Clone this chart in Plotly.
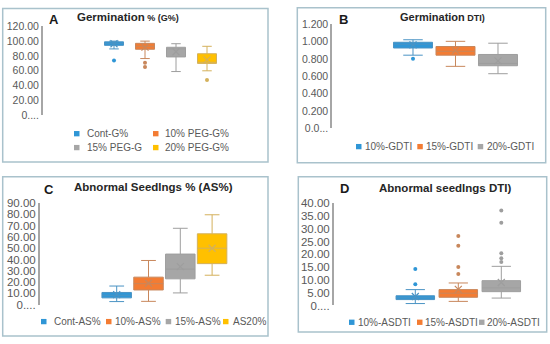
import plotly.graph_objects as go

W, H = 550, 344

# ---------------- data ----------------
# Panel A: Germination % (G%)
A_names = ["Cont-G%", "10% PEG-G%", "15% PEG-G", "20% PEG-G%"]
A_low = [89.5, 76.5, 59.0, 60.0]
A_q1 = [94.3, 89.0, 78.7, 70.0]
A_med = [97.0, 93.0, 89.6, 71.5]
A_q3 = [99.0, 97.0, 91.7, 83.0]
A_high = [100.0, 100.0, 96.5, 93.0]
A_mean = [96.5, 92.0, 85.7, 74.8]
A_out = [[74.0], [71.0, 65.0], [], [47.5]]
A_ticks = [0, 20, 40, 60, 80, 100, 120]
A_ticktext = ["0....", "20.00", "40.00", "60.00", "80.00", "100.00", "120.00"]

# Panel B: Germination DTI
B_names = ["10%-GDTI", "15%-GDTI", "20%-GDTI"]
B_low = [0.844, 0.715, 0.630]
B_q1 = [0.927, 0.844, 0.722]
B_med = [0.970, 0.889, 0.749]
B_q3 = [0.993, 0.944, 0.852]
B_high = [1.022, 1.004, 0.982]
B_mean = [0.963, 0.897, 0.778]
B_out = [[0.804], [], []]
B_ticks = [0, 0.2, 0.4, 0.6, 0.8, 1.0, 1.2]
B_ticktext = ["0.0...", "0.200", "0.400", "0.600", "0.800", "1.000", "1.200"]

# Panel C: Abnormal Seedlings % (AS%)
C_names = ["Cont-AS%", "10%-AS%", "15%-AS%", "AS20%"]
C_low = [2.6, 2.8, 10.3, 26.0]
C_q1 = [5.9, 12.9, 22.8, 36.3]
C_med = [8.2, 18.5, 31.4, 50.0]
C_q3 = [10.7, 24.3, 44.8, 62.8]
C_high = [16.4, 39.1, 67.7, 79.7]
C_mean = [8.8, 18.9, 33.7, 50.0]
C_out = [[], [], [], []]
C_ticks = [0, 10, 20, 30, 40, 50, 60, 70, 80, 90]
C_ticktext = ["0....", "10.00", "20.00", "30.00", "40.00", "50.00",
              "60.00", "70.00", "80.00", "90.00"]

# Panel D: Abnormal seedlings DTI
D_names = ["10%-ASDTI", "15%-ASDTI", "20%-ASDTI"]
D_low = [0.75, 1.6, 2.9]
D_q1 = [2.3, 3.2, 5.4]
D_med = [3.0, 4.8, 6.9]
D_q3 = [3.8, 6.2, 9.7]
D_high = [6.2, 8.8, 15.3]
D_mean = [3.5, 6.3, 9.0]
D_out = [[8.3, 14.3], [12.3, 15.0, 23.4, 27.2], [17.0, 18.5, 20.4, 32.3, 37.1]]
D_ticks = [0, 5, 10, 15, 20, 25, 30, 35, 40]
D_ticktext = ["0....", "5.00", "10.00", "15.00", "20.00", "25.00",
              "30.00", "35.00", "40.00"]

# ---------------- styles ----------------
FILL = ["#2F96D6", "#F37C33", "#A6A6A6", "#FFC000"]
LINE = ["#4A93C4", "#C8875C", "#9E9E9E", "#D4B15C"]
FONT = "Liberation Sans"
TXT = "#595959"


def px(x):
    return x / W


def py(y):
    return 1 - y / H


panels = [
    dict(key="", names=A_names, low=A_low, q1=A_q1, med=A_med, q3=A_q3, high=A_high,
         mean=A_mean, out=A_out, ticks=A_ticks, ticktext=A_ticktext, ymax=120,
         x0=43, x1=262, c0=114, sp=31, bw=19, ytop=21, ybot=113.3, tfs=10.5,
         frame=(2.7, 2.7, 268, 161.7),
         letter=("A", 54, 14), title=("Germination", " % (G%)", 75, 11, 11.5, 9),
         legend=[(74, 85, 132.3), (153, 163, 132.3), (74, 85, 146.7), (153, 163, 146.7)]),
    dict(key="2", names=B_names, low=B_low, q1=B_q1, med=B_med, q3=B_q3, high=B_high,
         mean=B_mean, out=B_out, ticks=B_ticks, ticktext=B_ticktext, ymax=1.2,
         x0=332.3, x1=540, c0=413, sp=42.5, bw=39, ytop=19, ybot=126.7, tfs=10.5,
         frame=(297.3, 1.7, 545.7, 162.3),
         letter=("B", 343, 14), title=("Germination", " DTI)", 397.7, 11.7, 11, 9),
         legend=[(356, 363.3, 145.7), (417.3, 424.3, 145.7), (477.7, 485, 145.7)]),
    dict(key="3", names=C_names, low=C_low, q1=C_q1, med=C_med, q3=C_q3, high=C_high,
         mean=C_mean, out=C_out, ticks=C_ticks, ticktext=C_ticktext, ymax=90,
         x0=40, x1=262, c0=116.7, sp=31.8, bw=29.5, ytop=204.3, ybot=309.3, tfs=11.5,
         frame=(2.7, 177, 268, 342),
         letter=("C", 49.3, 190.3), title=("Abnormal Seedlngs % (AS%)", "", 71.7, 187.7, 11.5, 9),
         legend=[(41, 51.7, 327), (106, 112.7, 327), (165.7, 172.7, 327), (223, 230.7, 327)]),
    dict(key="4", names=D_names, low=D_low, q1=D_q1, med=D_med, q3=D_q3, high=D_high,
         mean=D_mean, out=D_out, ticks=D_ticks, ticktext=D_ticktext, ymax=40,
         x0=334, x1=540, c0=415.3, sp=43, bw=38.5, ytop=204.3, ybot=310.3, tfs=11.5,
         frame=(298.3, 177, 546.7, 337.7),
         letter=("D", 344, 189.3), title=("Abnormal seedlngs DTI)", "", 377.3, 189, 11.5, 9),
         legend=[(349, 356, 327.7), (417, 423, 327.7), (479, 485, 327.7)]),
]

fig = go.Figure()
shapes = []
annotations = []
layout = {}

for p in panels:
    k = p["key"]
    xa, ya = "x" + k, "y" + k
    n = len(p["names"])
    bwu = p["bw"] / p["sp"]
    for i, name in enumerate(p["names"]):
        fig.add_trace(go.Box(
            x=[name], q1=[p["q1"][i]], median=[p["med"][i]], q3=[p["q3"][i]],
            lowerfence=[p["low"][i]], upperfence=[p["high"][i]],
            fillcolor=FILL[i], line=dict(color=LINE[i], width=1),
            width=bwu, whiskerwidth=0.5, boxpoints=False, showlegend=False,
            xaxis=xa, yaxis=ya, hoverinfo="skip"))
        fig.add_trace(go.Scatter(
            x=[name], y=[p["mean"][i]], mode="markers", showlegend=False,
            marker=dict(symbol="x-thin", size=7, line=dict(color=LINE[i], width=1.2)),
            xaxis=xa, yaxis=ya, hoverinfo="skip"))
        if p["out"][i]:
            fig.add_trace(go.Scatter(
                x=[name] * len(p["out"][i]), y=p["out"][i], mode="markers",
                showlegend=False, marker=dict(size=4, color=LINE[i] if i != 0 else FILL[0]),
                xaxis=xa, yaxis=ya, hoverinfo="skip"))
    c_last = p["c0"] + (n - 1) * p["sp"]
    rng = [-(p["c0"] - p["x0"]) / p["sp"], (n - 1) + (p["x1"] - c_last) / p["sp"]]
    layout["xaxis" + k] = dict(
        domain=[px(p["x0"]), px(p["x1"])], range=rng, type="category",
        categoryorder="array", categoryarray=p["names"], anchor=ya,
        visible=False, showgrid=False, zeroline=False, fixedrange=True)
    layout["yaxis" + k] = dict(
        domain=[py(p["ybot"]), py(p["ytop"])], range=[0, p["ymax"]], anchor=xa,
        showgrid=False, zeroline=False, showline=True, linecolor="#A6A6A6",
        linewidth=2, tickvals=p["ticks"], ticktext=p["ticktext"], ticks="",
        tickfont=dict(family=FONT, size=p["tfs"], color=TXT), fixedrange=True)
    # frame
    fx0, fy0, fx1, fy1 = p["frame"]
    shapes.append(dict(type="rect", xref="paper", yref="paper",
                       x0=px(fx0), x1=px(fx1), y0=py(fy1), y1=py(fy0),
                       line=dict(color="#A9C2CC", width=1.5), fillcolor="rgba(0,0,0,0)"))
    # letter
    L, lx, ly = p["letter"]
    annotations.append(dict(text="<b>%s</b>" % L, x=px(lx), y=py(ly), xref="paper",
                            yref="paper", showarrow=False, xanchor="center",
                            yanchor="middle", font=dict(family=FONT, size=13, color="#1a1a1a")))
    # title
    t1, t2, tx, ty, s1, s2 = p["title"]
    ttxt = "<b>%s</b>" % t1
    if t2:
        ttxt += "<b><span style='font-size:%gpx'>%s</span></b>" % (s2, t2)
    annotations.append(dict(text=ttxt, x=px(tx), y=py(ty), xref="paper", yref="paper",
                            showarrow=False, xanchor="left", yanchor="middle",
                            font=dict(family=FONT, size=s1, color="#262626")))
    # legend
    for i, (sx, tx2, ly2) in enumerate(p["legend"]):
        shapes.append(dict(type="rect", xref="paper", yref="paper",
                           x0=px(sx), x1=px(sx + 5.5), y0=py(ly2 + 2.75), y1=py(ly2 - 2.75),
                           line=dict(width=0), fillcolor=FILL[i]))
        annotations.append(dict(text=p["names"][i], x=px(tx2), y=py(ly2), xref="paper",
                                yref="paper", showarrow=False, xanchor="left",
                                yanchor="middle",
                                font=dict(family=FONT, size=10, color=TXT)))

fig.update_layout(
    width=W, height=H, margin=dict(l=0, r=0, t=0, b=0),
    paper_bgcolor="white", plot_bgcolor="white", boxmode="overlay",
    showlegend=False, shapes=shapes, annotations=annotations, **layout)

fig.write_html("out.html", config={"displayModeBar": False},
               post_script="document.body.style.margin='0';")
